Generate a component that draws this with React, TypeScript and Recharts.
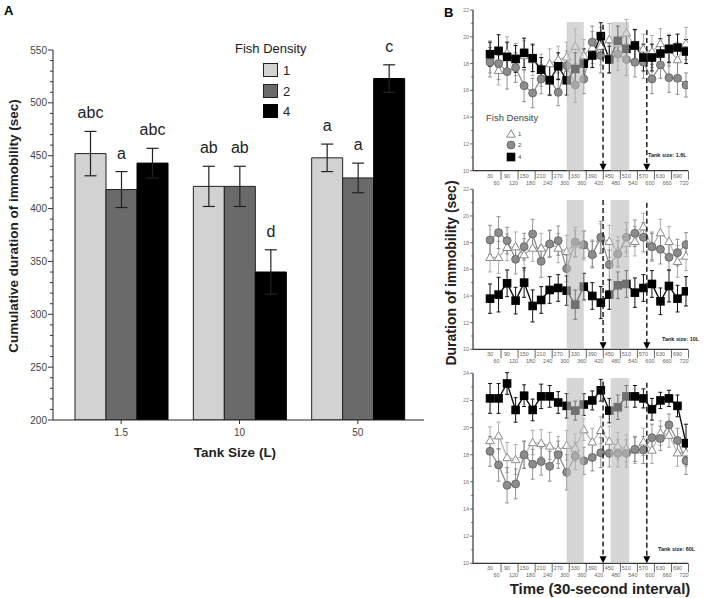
import React from 'react';
import {
  Bar,
  BarChart,
  ComposedChart,
  ErrorBar,
  LabelList,
  Line,
  ReferenceArea,
  ReferenceDot,
  ReferenceLine,
  XAxis,
  YAxis,
} from 'recharts';

// panel A
const TANKS = ['1.5', '10', '50'];
const DENS1 = [452, 421, 448];
const DENS1_ERR = [21, 19, 13];
const DENS2 = [418, 421, 429];
const DENS2_ERR = [17, 19, 14];
const DENS4 = [443, 340, 523];
const DENS4_ERR = [14, 21, 13];
const LETTERS1 = ['abc', 'ab', 'a'];
const LETTERS2 = ['a', 'ab', 'a'];
const LETTERS4 = ['abc', 'd', 'c'];

// panel B
const TIMES = [30, 60, 90, 120, 150, 180, 210, 240, 270, 300, 330, 360, 390, 420, 450, 480, 510, 540, 570, 600, 630, 660, 690, 720];

const TRI_16 = [18.5, 17.5, 18.8, 18.3, 18.6, 18.3, 17.5, 18.0, 18.3, 18.5, 19.3, 18.6, 19.2, 19.3, 19.8, 19.5, 20.3, 19.3, 19.1, 18.9, 19.5, 19.0, 18.3, 19.5];
const TRI_16_ERR = [1.2, 1.1, 1.2, 1.2, 1.1, 1.2, 1.2, 1.1, 1.0, 1.1, 1.3, 1.2, 1.2, 1.4, 1.2, 1.3, 1.0, 1.2, 1.1, 1.2, 1.1, 1.2, 1.3, 1.2];
const CIR_16 = [18.1, 18.0, 17.4, 17.7, 16.35, 15.8, 16.85, 16.8, 15.85, 17.85, 16.4, 16.85, 19.6, 18.6, 18.4, 18.7, 18.3, 18.1, 18.1, 16.85, 17.9, 16.95, 16.9, 16.4];
const CIR_16_ERR = [1.1, 1.2, 1.3, 1.1, 1.2, 1.1, 1.1, 1.2, 1.0, 1.1, 1.3, 1.1, 1.2, 1.3, 1.1, 1.2, 1.2, 1.1, 1.2, 1.1, 1.0, 1.1, 1.2, 0.9];
const SQ_16 = [18.7, 18.95, 18.5, 18.35, 18.8, 18.4, 17.55, 16.75, 17.8, 16.75, 17.6, 18.0, 18.6, 20.05, 18.3, 19.7, 19.1, 19.35, 18.45, 18.45, 18.75, 19.1, 19.2, 18.9];
const SQ_16_ERR = [0.9, 1.2, 1.1, 1.0, 1.1, 1.0, 0.9, 1.1, 1.0, 1.1, 1.2, 1.1, 0.9, 1.0, 1.0, 1.1, 1.0, 1.2, 1.0, 1.0, 1.1, 1.0, 1.0, 0.9];

const TRI_10 = [16.9, 16.9, 17.65, 17.7, 17.1, 17.6, 17.6, 17.95, 17.6, 17.35, 17.9, 17.8, 17.2, 18.3, 18.1, 17.35, 17.95, 18.1, 19.2, 17.7, 18.75, 18.1, 16.6, 17.0];
const TRI_10_ERR = [1.1, 1.2, 1.0, 1.1, 1.2, 1.0, 1.1, 1.0, 1.1, 1.2, 1.0, 1.1, 1.0, 1.1, 1.2, 1.1, 1.0, 1.1, 1.0, 1.1, 1.0, 1.1, 1.2, 1.1];
const CIR_10 = [18.2, 18.75, 18.15, 16.75, 17.7, 18.65, 16.6, 17.9, 18.15, 16.05, 18.05, 17.85, 17.1, 18.4, 16.35, 17.15, 18.4, 18.7, 18.4, 17.7, 17.5, 16.9, 17.25, 17.85];
const CIR_10_ERR = [1.1, 1.2, 1.0, 1.1, 1.0, 1.1, 1.2, 1.0, 1.1, 1.0, 1.1, 1.0, 1.0, 1.2, 1.1, 1.0, 1.1, 1.0, 1.1, 1.0, 1.1, 1.0, 1.0, 0.9];
const SQ_10 = [13.8, 14.1, 14.95, 13.65, 15.0, 13.25, 13.7, 14.45, 14.6, 14.4, 13.35, 14.7, 14.0, 13.5, 14.1, 14.8, 14.9, 14.25, 14.6, 14.9, 13.6, 14.75, 13.8, 14.35];
const SQ_10_ERR = [1.1, 1.3, 1.0, 1.0, 1.1, 1.2, 1.0, 1.0, 1.0, 1.1, 1.1, 1.0, 1.0, 1.2, 1.1, 1.0, 1.0, 1.1, 1.0, 1.0, 1.0, 1.2, 1.0, 1.1];

const TRI_60 = [19.05, 19.4, 17.8, 17.65, 18.0, 18.9, 18.85, 18.65, 18.35, 18.7, 18.5, 19.85, 18.95, 19.8, 19.0, 18.65, 18.45, 18.35, 18.95, 18.35, 19.6, 19.45, 18.15, 18.15];
const TRI_60_ERR = [1.0, 1.0, 1.1, 1.1, 1.0, 0.9, 1.0, 1.0, 1.0, 1.1, 1.0, 0.8, 1.0, 1.0, 1.1, 1.0, 1.0, 1.0, 1.0, 1.0, 0.9, 0.9, 1.0, 1.0];
const CIR_60 = [18.25, 17.25, 15.75, 15.85, 18.0, 17.3, 17.5, 17.15, 18.0, 16.7, 17.9, 17.55, 17.8, 18.15, 18.1, 18.1, 18.1, 18.4, 18.35, 19.25, 19.2, 20.2, 19.05, 17.55];
const CIR_60_ERR = [1.1, 1.2, 1.3, 1.1, 1.0, 1.1, 1.0, 1.1, 1.0, 1.3, 1.0, 1.0, 1.0, 1.1, 1.0, 1.0, 1.0, 0.9, 1.0, 1.0, 0.9, 0.8, 0.9, 1.0];
const SQ_60 = [22.15, 22.15, 23.25, 21.3, 22.35, 21.3, 22.3, 22.3, 21.85, 21.6, 21.25, 21.7, 22.0, 22.75, 21.25, 21.5, 22.3, 22.3, 22.15, 21.35, 22.0, 22.15, 21.6, 18.85];
const SQ_60_ERR = [1.1, 1.1, 0.8, 0.9, 0.8, 0.8, 0.9, 0.8, 0.8, 0.9, 0.7, 0.8, 0.7, 0.8, 0.9, 0.9, 0.8, 0.8, 0.7, 0.8, 0.6, 0.6, 0.8, 1.4];

const SHADED = [[300, 360], [455, 520]];
const ARROWS = [428, 582];

const FONT = '"Liberation Sans", Arial, sans-serif';

const A_TICKS = Array.from({ length: 36 }, (_, i) => 200 + i * 10);

function ATickY({ x, y, payload }: any) {
  const major = payload.value % 50 === 0;
  return (
    <g>
      <line x1={x - (major ? 5 : 3)} x2={x} y1={y} y2={y} stroke="#333" strokeWidth={1} />
      {major && (
        <text x={x - 6} y={y + 3.5} textAnchor="end" fontSize={10} fill="#444" fontFamily={FONT}>
          {payload.value}
        </text>
      )}
    </g>
  );
}

function ATickX({ x, y, payload }: any) {
  return (
    <g>
      <line x1={x} x2={x} y1={y} y2={y + 4} stroke="#333" />
      <text x={x} y={y + 16} textAnchor="middle" fontSize={10} fill="#444" fontFamily={FONT}>
        {payload.value}
      </text>
    </g>
  );
}

function letterLabel(letters: string[], errs: number[]) {
  return (props: any) => {
    const { x, y, width, height, index, value } = props;
    const scale = height / (value - 200);
    const top = y - errs[index] * scale;
    return (
      <text x={x + width / 2} y={top - 13} textAnchor="middle" fontSize={16} fill="#222" fontFamily={FONT}>
        {letters[index]}
      </text>
    );
  };
}

function PanelA() {
  const data = TANKS.map((t, i) => ({
    tank: t,
    d1: DENS1[i],
    e1: DENS1_ERR[i],
    d2: DENS2[i],
    e2: DENS2_ERR[i],
    d4: DENS4[i],
    e4: DENS4_ERR[i],
  }));
  return (
    <BarChart width={440} height={470} data={data} margin={{ top: 50, right: 16, bottom: 20, left: 13 }} barGap={0} barSize={31}>
      <XAxis dataKey="tank" padding={{ left: 9, right: 7 }} height={30} tickSize={0} tickMargin={0} tickLine={false} tick={<ATickX />} axisLine={{ stroke: '#222' }} />
      <YAxis domain={[200, 550]} ticks={A_TICKS} interval={0} width={40} tickSize={0} tickMargin={0} tickLine={false} tick={<ATickY />} axisLine={{ stroke: '#222' }} allowDataOverflow />
      <Bar dataKey="d1" fill="#d2d2d2" stroke="#222" strokeWidth={1} isAnimationActive={false}>
        <ErrorBar dataKey="e1" width={6} stroke="#222" strokeWidth={1.2} direction="y" />
        <LabelList dataKey="d1" content={letterLabel(LETTERS1, DENS1_ERR)} />
      </Bar>
      <Bar dataKey="d2" fill="#6a6a6a" stroke="#222" strokeWidth={1} isAnimationActive={false}>
        <ErrorBar dataKey="e2" width={6} stroke="#222" strokeWidth={1.2} direction="y" />
        <LabelList dataKey="d2" content={letterLabel(LETTERS2, DENS2_ERR)} />
      </Bar>
      <Bar dataKey="d4" fill="#000" stroke="#000" strokeWidth={1} isAnimationActive={false}>
        <ErrorBar dataKey="e4" width={6} stroke="#222" strokeWidth={1.2} direction="y" />
        <LabelList dataKey="d4" content={letterLabel(LETTERS4, DENS4_ERR)} />
      </Bar>
    </BarChart>
  );
}

function triShape(cx: number, cy: number, key?: any) {
  return <path key={key} d={`M${cx},${cy - 4.2} L${cx + 4.3},${cy + 3.2} L${cx - 4.3},${cy + 3.2} Z`} fill="#fff" stroke="#8a8a8a" strokeWidth={1} />;
}
function cirShape(cx: number, cy: number, key?: any) {
  return <circle key={key} cx={cx} cy={cy} r={4} fill="#8c8c8c" stroke="#5e5e5e" strokeWidth={0.8} />;
}
function sqShape(cx: number, cy: number, key?: any) {
  return <rect key={key} x={cx - 4.3} y={cy - 4.3} width={8.6} height={8.6} fill="#000" />;
}

function BTickY({ x, y, payload }: any) {
  const major = payload.value % 2 === 0;
  return (
    <g>
      <line x1={x - (major ? 3 : 1.8)} x2={x} y1={y} y2={y} stroke="#444" strokeWidth={0.8} />
      {major && (
        <text x={x - 4} y={y + 2} textAnchor="end" fontSize={5.5} fill="#777" fontFamily={FONT}>
          {payload.value}
        </text>
      )}
    </g>
  );
}

function BTickX({ x, y, payload }: any) {
  const i = TIMES.indexOf(payload.value);
  const low = i % 2 === 1;
  return (
    <g>
      {low && <line x1={x + 2.5} x2={x + 2.5} y1={y} y2={y + 9} stroke="#444" strokeWidth={0.8} />}
      <text x={low ? x - 2 : x} y={y + (low ? 14 : 7)} textAnchor="middle" fontSize={5.5} fill="#666" fontFamily={FONT}>
        {payload.value}
      </text>
    </g>
  );
}

type TimeProps = {
  top: number;
  height: number;
  marginTop: number;
  marginBottom: number;
  yMax: number;
  tri: number[];
  triErr: number[];
  cir: number[];
  cirErr: number[];
  sq: number[];
  sqErr: number[];
  bandTop: number;
  arrowTops: number[];
};

function TimeChart(p: TimeProps) {
  const data = TIMES.map((t, i) => ({
    t,
    d1: p.tri[i],
    e1: p.triErr[i],
    d2: p.cir[i],
    e2: p.cirErr[i],
    d4: p.sq[i],
    e4: p.sqErr[i],
  }));
  const yTicks = Array.from({ length: p.yMax - 9 }, (_, i) => 10 + i);
  return (
    <div style={{ position: 'absolute', left: 440, top: p.top }}>
      <ComposedChart width={268} height={p.height} data={data} margin={{ top: p.marginTop, right: 20, bottom: p.marginBottom, left: 13 }}>
        <XAxis dataKey="t" type="number" domain={[-30, 727]} ticks={TIMES} interval={0} height={18} tickSize={0} tickMargin={0} tickLine={false} tick={<BTickX />} axisLine={{ stroke: '#333', strokeWidth: 1.2 }} allowDataOverflow />
        <YAxis domain={[10, p.yMax]} ticks={yTicks} interval={0} width={20} tickSize={0} tickMargin={0} tickLine={false} tick={<BTickY />} axisLine={{ stroke: '#333', strokeWidth: 1.2 }} allowDataOverflow />
        <Line dataKey="d1" stroke="#b4b4b4" strokeWidth={1.2} isAnimationActive={false} dot={(d: any) => triShape(d.cx, d.cy, d.index)}>
          <ErrorBar dataKey="e1" width={2} stroke="#9a9a9a" strokeWidth={0.8} direction="y" />
        </Line>
        <Line dataKey="d2" stroke="#8a8a8a" strokeWidth={1.2} isAnimationActive={false} dot={(d: any) => cirShape(d.cx, d.cy, d.index)}>
          <ErrorBar dataKey="e2" width={2} stroke="#7a7a7a" strokeWidth={0.8} direction="y" />
        </Line>
        <Line dataKey="d4" stroke="#111" strokeWidth={1.4} isAnimationActive={false} dot={(d: any) => sqShape(d.cx, d.cy, d.index)}>
          <ErrorBar dataKey="e4" width={2} stroke="#111" strokeWidth={1} direction="y" />
        </Line>
        {SHADED.map(([a, b]) => (
          <ReferenceArea key={a} x1={a} x2={b} y1={10} y2={p.bandTop} fill="#bbbbbb" fillOpacity={0.6} stroke="none" zIndex={1000} />
        ))}
        {ARROWS.map((a, i) => (
          <ReferenceLine key={'l' + a} segment={[{ x: a, y: p.arrowTops[i] }, { x: a, y: 10.4 }]} stroke="#222" strokeWidth={1.5} strokeDasharray="5 3" zIndex={1001} />
        ))}
        {ARROWS.map((a) => (
          <ReferenceDot
            key={'d' + a}
            x={a}
            y={10}
            zIndex={1002}
            shape={(s: any) => <path d={`M${s.cx - 3.5},${s.cy - 7} L${s.cx + 3.5},${s.cy - 7} L${s.cx},${s.cy} Z`} fill="#000" />}
          />
        ))}
      </ComposedChart>
    </div>
  );
}

function Overlay() {
  const t = { fontFamily: FONT };
  return (
    <svg width={708} height={598} style={{ position: 'absolute', left: 0, top: 0, pointerEvents: 'none' }}>
      <text x={4} y={15} fontSize={13} fontWeight="bold" {...t}>A</text>
      <text x={444} y={17} fontSize={13} fontWeight="bold" {...t}>B</text>
      <text transform="translate(18,226) rotate(-90)" textAnchor="middle" fontSize={13.5} fontWeight="bold" fill="#222" {...t}>
        Cumulative duration of immobility (sec)
      </text>
      <text x={235} y={457} textAnchor="middle" fontSize={13.5} fontWeight="bold" fill="#222" {...t}>Tank Size (L)</text>
      <text x={235} y={53} fontSize={13} fill="#222" {...t}>Fish Density</text>
      <rect x={263.5} y={63.5} width={14} height={13} fill="#d2d2d2" stroke="#222" />
      <rect x={263.5} y={84.5} width={14} height={13} fill="#6a6a6a" stroke="#222" />
      <rect x={263.5} y={104.5} width={14} height={13} fill="#000" stroke="#000" />
      <text x={283} y={75} fontSize={13} fill="#222" {...t}>1</text>
      <text x={283} y={96} fontSize={13} fill="#222" {...t}>2</text>
      <text x={283} y={116} fontSize={13} fill="#222" {...t}>4</text>

      <text transform="translate(456,273) rotate(-90)" textAnchor="middle" fontSize={14} fontWeight="bold" fill="#222" {...t}>
        Duration of immobility (sec)
      </text>
      <text x={600} y={594} textAnchor="middle" fontSize={15} fontWeight="bold" fill="#222" {...t}>Time (30-second  interval)</text>
      <text x={486} y={121} fontSize={9.5} fill="#444" {...t}>Fish Density</text>
      {triShape(511, 134)}
      {cirShape(511, 145)}
      {sqShape(511, 157)}
      <text x={518} y={136} fontSize={6} fill="#444" {...t}>1</text>
      <text x={518} y={147} fontSize={6} fill="#444" {...t}>2</text>
      <text x={518} y={159} fontSize={6} fill="#444" {...t}>4</text>
      <text x={648} y={157} fontSize={5.5} fontWeight="bold" fill="#222" {...t}>Tank size: 1.6L</text>
      <text x={662} y={341} fontSize={5.5} fontWeight="bold" fill="#222" {...t}>Tank size: 10L</text>
      <text x={658} y={551} fontSize={5.5} fontWeight="bold" fill="#222" {...t}>Tank size: 60L</text>
    </svg>
  );
}

export default function App() {
  return (
    <div style={{ position: 'absolute', left: 0, top: 0, width: 708, height: 598, background: '#fff', fontFamily: FONT }}>
      <div style={{ position: 'absolute', left: 0, top: 0 }}>
        <PanelA />
      </div>
      <TimeChart top={0} height={190} marginTop={10} marginBottom={1.3} yMax={22} tri={TRI_16} triErr={TRI_16_ERR} cir={CIR_16} cirErr={CIR_16_ERR} sq={SQ_16} sqErr={SQ_16_ERR} bandTop={21.1} arrowTops={[20.9, 20.5]} />
      <TimeChart top={180} height={188} marginTop={9.3} marginBottom={0.7} yMax={22} tri={TRI_10} triErr={TRI_10_ERR} cir={CIR_10} cirErr={CIR_10_ERR} sq={SQ_10} sqErr={SQ_10_ERR} bandTop={21.2} arrowTops={[21.2, 21.0]} />
      <TimeChart top={363} height={219} marginTop={10.3} marginBottom={0.7} yMax={24} tri={TRI_60} triErr={TRI_60_ERR} cir={CIR_60} cirErr={CIR_60_ERR} sq={SQ_60} sqErr={SQ_60_ERR} bandTop={23.65} arrowTops={[23.4, 23.3]} />
      <Overlay />
    </div>
  );
}
